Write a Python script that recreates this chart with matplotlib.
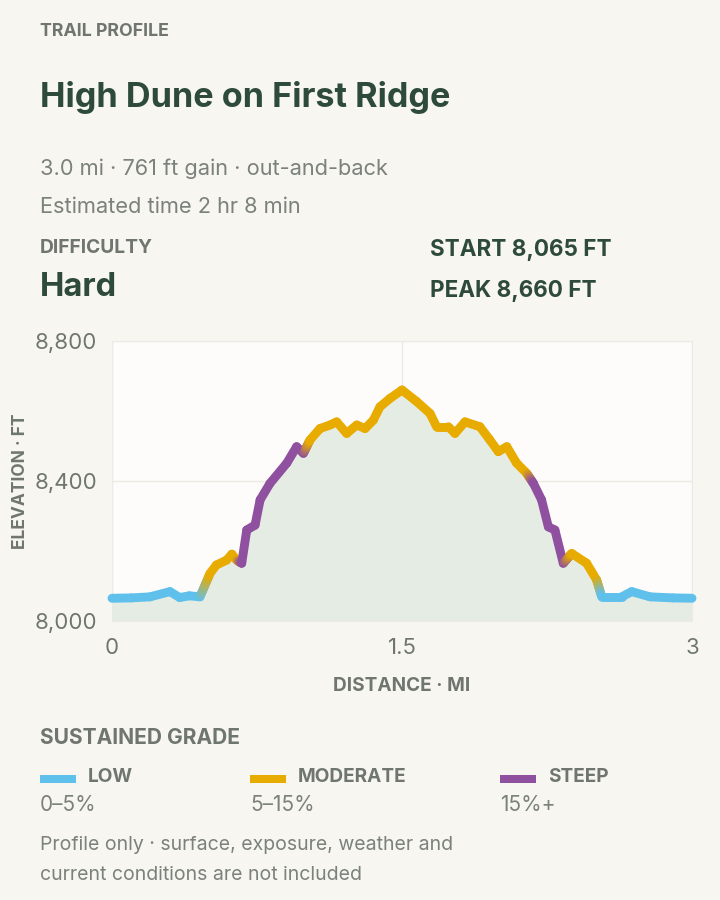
import numpy as np
import matplotlib.pyplot as plt
from matplotlib.collections import LineCollection
from matplotlib.colors import to_rgb
from matplotlib.patches import Rectangle

# --- data ---
dist_mi = [0.0, 0.10, 0.197, 0.30, 0.35, 0.40, 0.455, 0.507, 0.54, 0.593, 0.62,
           0.645, 0.671, 0.697, 0.74, 0.766, 0.817, 0.904, 0.955, 0.99, 1.024,
           1.076, 1.128, 1.162, 1.214, 1.266, 1.309, 1.352, 1.386, 1.438, 1.50,
           1.576, 1.645, 1.679, 1.74, 1.774, 1.826, 1.903, 1.955, 1.998, 2.042,
           2.093, 2.145, 2.18, 2.222, 2.257, 2.291, 2.334, 2.378, 2.455, 2.507,
           2.533, 2.593, 2.636, 2.688, 2.783, 2.90, 3.0]
elev_ft = [8065, 8066, 8069, 8084, 8067, 8072, 8069, 8136, 8160, 8174, 8191,
           8174, 8165, 8260, 8274, 8346, 8393, 8451, 8498, 8479, 8517,
           8550, 8560, 8569, 8536, 8560, 8550, 8574, 8612, 8636, 8660,
           8627, 8593, 8555, 8555, 8536, 8569, 8555, 8517, 8484, 8498,
           8451, 8422, 8393, 8346, 8269, 8260, 8165, 8193, 8165, 8117,
           8069, 8069, 8069, 8084, 8069, 8066, 8065]
# sustained grade class per point: 0 low, 1 moderate, 2 steep
grade = [0, 0, 0, 0, 0, 0, 0, 1, 1, 1, 1,
         1, 2, 2, 2, 2, 2, 2, 2, 2, 1,
         1, 1, 1, 1, 1, 1, 1, 1, 1, 1,
         1, 1, 1, 1, 1, 1, 1, 1, 1, 1,
         1, 1, 2, 2, 2, 2, 2, 1, 1, 1,
         0, 0, 0, 0, 0, 0, 0]

grade_names = ["LOW", "MODERATE", "STEEP"]
grade_ranges = ["0–5%", "5–15%", "15%+"]
grade_colors = ["#5fc0ec", "#e8ab00", "#8f509f"]

y_ticks = [8000, 8400, 8800]
x_ticks = [0, 1.5, 3]
x_ticklabels = ["0", "1.5", "3"]

BG = "#f7f6f1"
DARK = "#2d4a3a"
GREY = "#6f766f"
LIGHT = "#7b817b"

plt.rcParams['font.family'] = ['Inter', 'DejaVu Sans']

fig = plt.figure(figsize=(7.2, 9), dpi=100, facecolor=BG)

# --- header texts ---
def txt(x, y, s, **kw):
    fig.text(x / 720, 1 - y / 900, s, va='center', ha=kw.pop('ha', 'left'), **kw)

txt(40, 31, "TRAIL PROFILE", fontsize=12.8, fontweight='bold', color=GREY)
txt(40, 97, "High Dune on First Ridge", fontsize=24.6, fontweight='bold', color=DARK)
txt(40, 169, "3.0 mi · 761 ft gain · out-and-back", fontsize=15.7, color=LIGHT)
txt(40, 207, "Estimated time 2 hr 8 min", fontsize=15.7, color=LIGHT)
txt(40, 248, "DIFFICULTY", fontsize=13.8, fontweight='bold', color=GREY)
txt(40, 288, "Hard", fontsize=23.5, fontweight='bold', color=DARK)
txt(430, 250, "START 8,065 FT", fontsize=16.2, fontweight='bold', color=DARK)
txt(430, 291, "PEAK 8,660 FT", fontsize=16.2, fontweight='bold', color=DARK)

# --- chart ---
ax = fig.add_axes([112 / 720, 1 - 621 / 900, 580 / 720, 280 / 900])
ax.set_facecolor("#fdfcfa")
ax.set_xlim(0, 3)
ax.set_ylim(8000, 8800)

x = np.array(dist_mi)
y = np.array(elev_ft)
ax.fill_between(x, 8000, y, color="#e5ece4", lw=0, zorder=1)

# colored line, blended where the grade class changes
segs, cols = [], []
rgb = [np.array(to_rgb(c)) for c in grade_colors]
for i in range(len(x) - 1):
    c0, c1 = rgb[grade[i]], rgb[grade[i + 1]]
    n = 1 if grade[i] == grade[i + 1] else 12
    for k in range(n):
        t0, t1 = k / n, (k + 1) / n
        segs.append([(x[i] + (x[i + 1] - x[i]) * t0, y[i] + (y[i + 1] - y[i]) * t0),
                     (x[i] + (x[i + 1] - x[i]) * t1, y[i] + (y[i + 1] - y[i]) * t1)])
        tm = (t0 + t1) / 2
        cols.append(c0 * (1 - tm) + c1 * tm)
lc = LineCollection(segs, colors=cols, linewidths=6.4, capstyle='round',
                    joinstyle='round', zorder=3, clip_on=False)
ax.add_collection(lc)

ax.set_yticks(y_ticks)
ax.set_yticklabels([f"{v:,}" for v in y_ticks])
ax.set_xticks(x_ticks)
ax.set_xticklabels(x_ticklabels)
ax.grid(True, color="#ebeae5", lw=1, zorder=0)
ax.set_axisbelow(True)
for s in ax.spines.values():
    s.set_color("#ebeae5")
ax.tick_params(length=0, labelsize=16, labelcolor=GREY, pad=10.5)
ax.tick_params(axis='x', pad=12)
ax.set_ylabel("ELEVATION · FT", fontsize=12.5, fontweight='bold', color=GREY, labelpad=4)
ax.set_xlabel("DISTANCE · MI", fontsize=13.7, fontweight='bold', color=GREY, labelpad=14)

# --- legend ---
txt(40, 738, "SUSTAINED GRADE", fontsize=15.1, fontweight='bold', color=GREY)
for x0, name, rng, c in zip([40, 250, 500], grade_names, grade_ranges, grade_colors):
    fig.patches.append(Rectangle((x0 / 720, 1 - 783 / 900), 36 / 720, 8 / 900,
                                 transform=fig.transFigure, color=c, lw=0))
    txt(x0 + 48, 777, name, fontsize=13.7, fontweight='bold', color=GREY)
    txt(x0, 805, rng, fontsize=15, color=LIGHT)

txt(40, 845, "Profile only · surface, exposure, weather and", fontsize=14, color=LIGHT)
txt(40, 875, "current conditions are not included", fontsize=14, color=LIGHT)

fig.savefig("out.png", dpi=100, facecolor=BG)
